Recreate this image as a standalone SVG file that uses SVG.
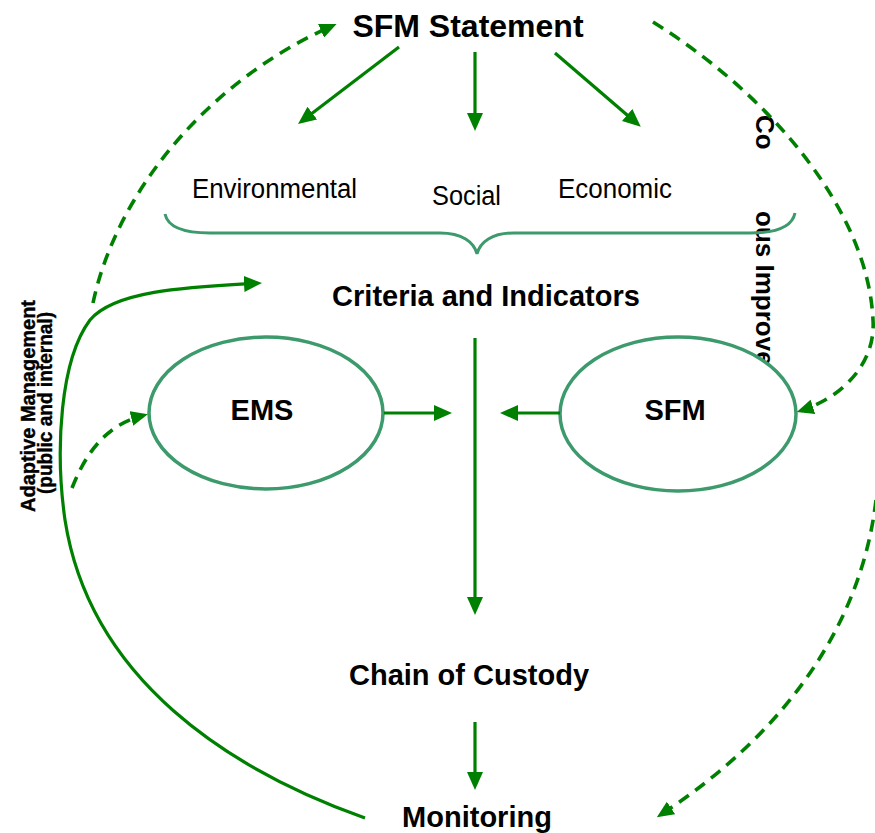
<svg xmlns="http://www.w3.org/2000/svg" width="875" height="833" viewBox="0 0 875 833">
  <style>
    .t { font-family: "Liberation Sans", Arial, sans-serif; fill: #000; }
    .b { font-weight: bold; }
    .heavy { stroke: #000; stroke-width: 0.4; }
    .node { fill: #fff; stroke: #3c9a6c; stroke-width: 3.5; }
    .brace { fill: none; stroke: #3c9a6c; stroke-width: 3; }
    .conn { fill: none; stroke: #008000; stroke-width: 3.2; }
    .dash { stroke-width: 3.6; stroke-dasharray: 12 8; }
  </style>
  <defs>
    <marker id="ah" markerUnits="userSpaceOnUse" markerWidth="18" markerHeight="16" refX="13" refY="8" orient="auto" viewBox="0 0 18 16">
      <path d="M0,0 L18,8 L0,16 z" fill="#008000"/>
    </marker>
    <marker id="ahs" markerUnits="userSpaceOnUse" markerWidth="17" markerHeight="15" refX="12" refY="7.5" orient="auto" viewBox="0 0 17 15">
      <path d="M0,0 L17,7.5 L0,15 z" fill="#008000"/>
    </marker>
  </defs>
  <rect width="875" height="833" fill="#fff"/>

  <g id="continuous-improvement-label">
    <text class="t b" font-size="26" transform="translate(756,115) rotate(90)">Co</text>
    <text class="t b" font-size="26" transform="translate(756,211) rotate(90)">ous Improve</text>
  </g>

  <g id="adaptive-management-label">
    <text class="t b heavy" font-size="20" transform="translate(35,512) rotate(-90)" textLength="212" lengthAdjust="spacingAndGlyphs">Adaptive Management</text>
    <text class="t b heavy" font-size="20" transform="translate(52,494) rotate(-90)" textLength="182" lengthAdjust="spacingAndGlyphs">(public and internal)</text>
  </g>

  <g id="sfm-statement">
    <text class="t b" x="468" y="37" font-size="32" text-anchor="middle">SFM Statement</text>
  </g>
  <g id="environmental">
    <text class="t" x="192" y="198" font-size="27" textLength="165" lengthAdjust="spacingAndGlyphs">Environmental</text>
  </g>
  <g id="social">
    <text class="t" x="432" y="205" font-size="27" textLength="69" lengthAdjust="spacingAndGlyphs">Social</text>
  </g>
  <g id="economic">
    <text class="t" x="558" y="198" font-size="27" textLength="114" lengthAdjust="spacingAndGlyphs">Economic</text>
  </g>
  <g id="brace">
    <path class="brace" d="M165,214 C168,228 185,233 210,233 L440,233 C462,233 474,242 477,254 C480,242 492,233 514,233 L750,233 C775,233 792,228 795,213"/>
  </g>
  <g id="criteria-indicators">
    <text class="t b" x="486" y="306" font-size="29" text-anchor="middle">Criteria and Indicators</text>
  </g>
  <g id="ems">
    <ellipse class="node" cx="266" cy="413" rx="117" ry="76"/>
    <text class="t b" x="262" y="420" font-size="29" text-anchor="middle">EMS</text>
  </g>
  <g id="sfm">
    <ellipse class="node" cx="678" cy="414" rx="118" ry="77"/>
    <text class="t b" x="675" y="420" font-size="29" text-anchor="middle">SFM</text>
  </g>
  <g id="chain-of-custody">
    <text class="t b" x="469" y="685" font-size="29" text-anchor="middle">Chain of Custody</text>
  </g>
  <g id="monitoring">
    <text class="t b" x="477" y="827" font-size="29" text-anchor="middle">Monitoring</text>
  </g>

  <g id="connectors">
    <path class="conn" d="M399,47 L302,121" marker-end="url(#ah)"/>
    <path class="conn" d="M475,52 L475,126" marker-end="url(#ah)"/>
    <path class="conn" d="M555,53 L637,123.5" marker-end="url(#ah)"/>
    <path class="conn" d="M384,413 L447,413" marker-end="url(#ah)"/>
    <path class="conn" d="M560,413 L505,413" marker-end="url(#ah)"/>
    <path class="conn" d="M475,338 L475,610" marker-end="url(#ah)"/>
    <path class="conn" d="M475,722 L475,785" marker-end="url(#ah)"/>
    <path class="conn" d="M365,818 C230,770 90,680 65,520 C55,450 60,360 90,320 C115,290 190,287 257,283.2" marker-end="url(#ah)"/>
    <path class="conn dash" d="M93,303 C117,190 210,80 332,26" marker-end="url(#ahs)"/>
    <path class="conn dash" d="M72,488 C85,455 105,425 143,415.5" marker-end="url(#ahs)"/>
    <path class="conn dash" d="M653,22 C770,95 868,210 873,320 C876,365 840,398 801.5,410.5" marker-end="url(#ahs)"/>
    <path class="conn dash" d="M876,500 C862,620 790,730 661,814.5" marker-end="url(#ahs)"/>
  </g>
</svg>
